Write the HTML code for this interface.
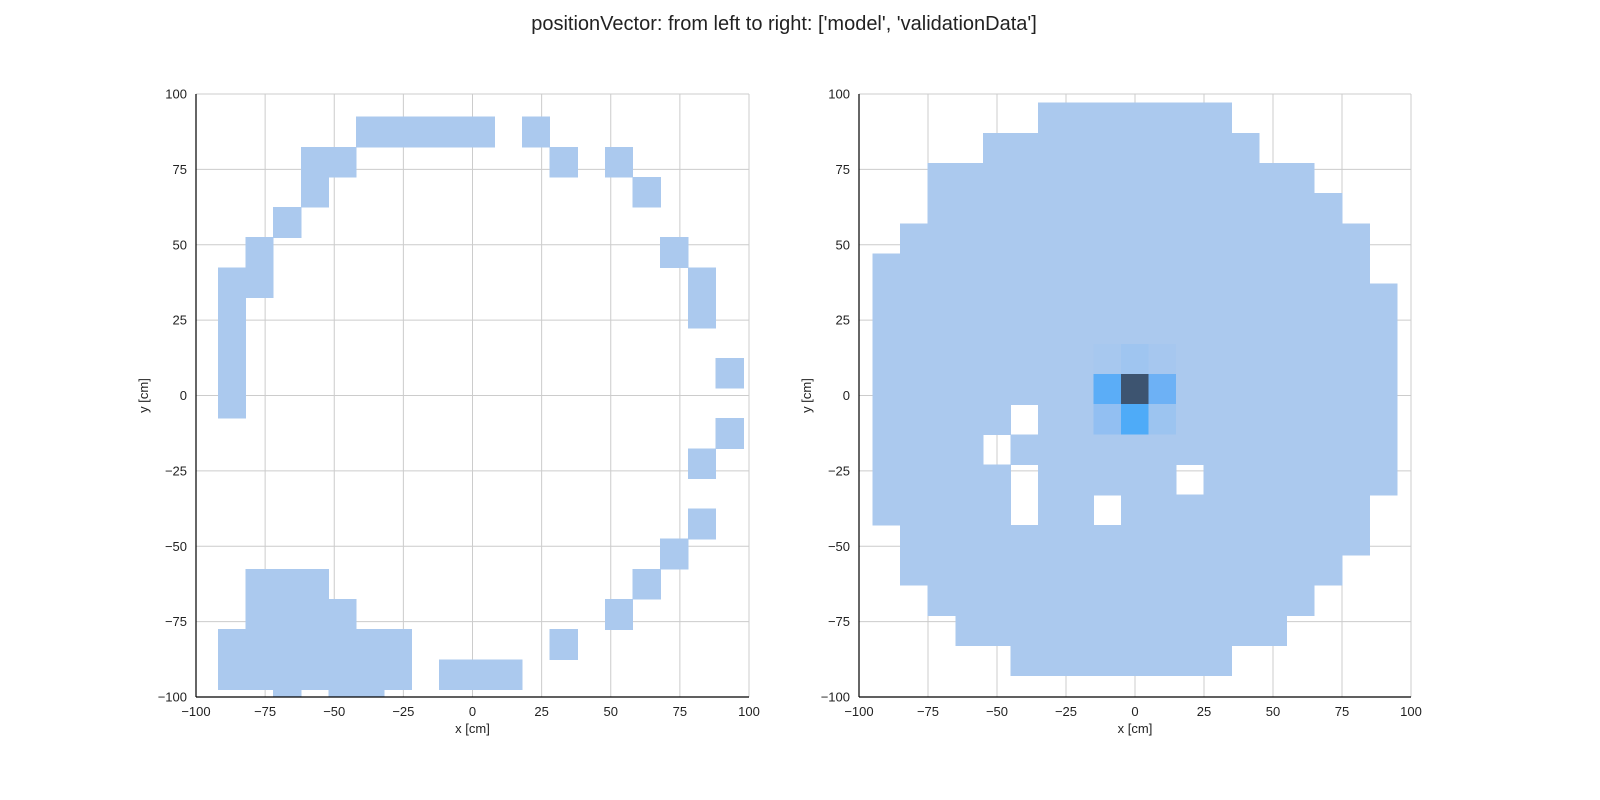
<!DOCTYPE html>
<html><head><meta charset="utf-8"><style>
body{margin:0;background:#fff;overflow:hidden;}
svg{display:block;font-family:"Liberation Sans",sans-serif;}
</style></head><body>
<svg id="chart" width="1600" height="800" viewBox="0 0 1600 800">
<text x="784" y="30" text-anchor="middle" font-size="20" fill="#222">positionVector: from left to right: ['model', 'validationData']</text>
</svg>
<script>
// ticks
const ticks = [-100, -75, -50, -25, 0, 25, 50, 75, 100];
// Left panel (model): bins of 10 cm, x-left edges from -92, y-bottom edges from 92.4
const leftRowsY = [82.4, 72.4, 62.4, 52.4, 42.4, 32.4, 22.4, 12.4, 2.4, -7.6, -17.6, -27.6, -47.6, -57.6, -67.6, -77.6, -87.6, -97.6, -107.6];
const leftRowsX = [
  [-42,-32,-22,-12,-2,18],
  [-62,-52,28,48],
  [-62,58],
  [-72],
  [-82,68],
  [-92,-82,78],
  [-92,78],
  [-92],
  [-92,88],
  [-92],
  [88],
  [78],
  [78],
  [68],
  [-82,-72,-62,58],
  [-82,-72,-62,-52,48],
  [-92,-82,-72,-62,-52,-42,-32,28],
  [-92,-82,-72,-62,-52,-42,-32,-12,-2,8],
  [-72,-52,-42]
];
// Right panel (validation): rows bottom edge, x start/end (left edges), holes
const rightRowsY = [87,77,67,57,47,37,27,17,7,-3,-13,-23,-33,-43,-53,-63,-73,-83,-93];
const rightRowStart = [-35,-55,-75,-75,-85,-95,-95,-95,-95,-95,-95,-95,-95,-95,-85,-85,-75,-65,-45];
const rightRowEnd   = [25,35,55,65,75,75,85,85,85,85,85,85,85,75,75,65,55,45,25];
const rightHoles = [[-45,-13],[-55,-23],[-45,-33],[15,-33],[-45,-43],[-15,-43]];
// density values for central cells [x, y, value]; others = 1
const rightPeaks = [[-5,-3,12],[-15,-3,6],[5,-3,5],[-5,-13,7],[-15,-13,3],[5,-13,2.5],[-5,7,2.2],[-15,7,1.4],[5,7,1.5]];

const NS = 'http://www.w3.org/2000/svg';
const svg = document.getElementById('chart');
function mk(tag, attrs, parent){const e=document.createElementNS(NS,tag);for(const k in attrs)e.setAttribute(k,attrs[k]);(parent||svg).appendChild(e);return e;}
const stops=[[1,[171,201,238]],[2.5,[156,196,240]],[3,[146,191,242]],[5,[109,177,245]],[6,[91,173,247]],[7,[78,171,248]],[12,[61,84,112]]];
function colorOf(v){
  if(v<=stops[0][0]) return 'rgb('+stops[0][1].join(',')+')';
  for(let i=1;i<stops.length;i++){if(v<=stops[i][0]){const a=stops[i-1],b=stops[i];const t=(v-a[0])/(b[0]-a[0]);return 'rgb('+a[1].map((c,j)=>Math.round(c+(b[1][j]-c)*t)).join(',')+')';}}
  return 'rgb('+stops[stops.length-1][1].join(',')+')';
}
function panel(x0, x1, y0, y1, name){
  const sx=v=>x0+(v+100)/200*(x1-x0);
  const sy=v=>y1-(v+100)/200*(y1-y0);
  const g=mk('g',{});
  
  
  const clipId='clip-'+name;
  const cp=mk('clipPath',{id:clipId},g);mk('rect',{x:x0,y:y0,width:x1-x0,height:y1-y0},cp);
  ticks.forEach(t=>{
    const gx=mk('line',{x1:sx(t),x2:sx(t),y1:y0,y2:y1,stroke:'#cccccc','stroke-width':1},g);
    
    
    const gy=mk('line',{x1:x0,x2:x1,y1:sy(t),y2:sy(t),stroke:'#cccccc','stroke-width':1},g);
    
    
    const tx=mk('text',{x:sx(t),y:y1+19,'text-anchor':'middle','font-size':13,fill:'#222'},g);tx.textContent=t===0?'0':(t<0?'\u2212'+(-t):t);
    
    
    const ty=mk('text',{x:x0-9,y:sy(t)+4.5,'text-anchor':'end','font-size':13,fill:'#222'},g);ty.textContent=t===0?'0':(t<0?'\u2212'+(-t):t);
    
    
  });
  const cells=mk('g',{'clip-path':'url(#'+clipId+')','shape-rendering':'crispEdges'},g);
  
  
  const xl=mk('text',{x:(x0+x1)/2,y:y1+36,'text-anchor':'middle','font-size':13,fill:'#222'},g);xl.textContent='x [cm]';
  
  
  const yl=mk('text',{x:0,y:0,'text-anchor':'middle','font-size':13,fill:'#222',transform:'translate('+(x0-48)+','+((y0+y1)/2)+') rotate(-90)'},g);yl.textContent='y [cm]';
  
  
  return {sx,sy,cells,g,x0,x1,y0,y1};
}
function cell(p,xe,ye,v){
  const c=colorOf(v);
  const r=mk('rect',{x:p.sx(xe),y:p.sy(ye+10),width:p.sx(xe+10)-p.sx(xe),height:p.sy(ye)-p.sy(ye+10),fill:c,stroke:c,'stroke-width':0.6},p.cells);
  
  
}
function spines(p){
  const a=mk('line',{x1:p.x0,x2:p.x0,y1:p.y0,y2:p.y1,stroke:'#000','stroke-width':1.2},p.g);
  
  
  const b=mk('line',{x1:p.x0,x2:p.x1,y1:p.y1,y2:p.y1,stroke:'#000','stroke-width':1.2},p.g);
  
  
}
const L=panel(196,749,94,697,'model-panel');
leftRowsY.forEach((y,i)=>leftRowsX[i].forEach(x=>cell(L,x,y,1)));
spines(L);
const R=panel(859,1411,94,697,'validation-panel');
rightRowsY.forEach((y,i)=>{
  for(let x=rightRowStart[i];x<=rightRowEnd[i];x+=10){
    if(rightHoles.some(h=>h[0]===x&&h[1]===y))continue;
    const pk=rightPeaks.find(p=>p[0]===x&&p[1]===y);
    cell(R,x,y,pk?pk[2]:1);
  }
});
spines(R);
</script>
</body></html>
